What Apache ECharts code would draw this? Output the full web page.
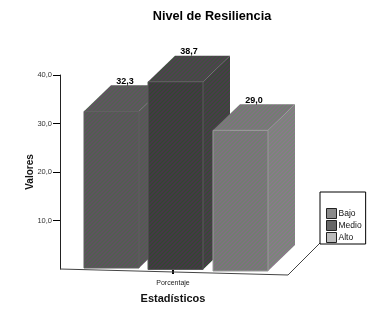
<!DOCTYPE html>
<html><head><meta charset="utf-8">
<style>html,body{margin:0;padding:0;background:#fff}#c{width:378px;height:316px}</style>
<script src="https://cdn.jsdelivr.net/npm/echarts@6/dist/echarts.min.js"></script>
</head><body><div id="c"></div>
<script>
const categories = ['Porcentaje'];
const levels = ['Bajo', 'Medio', 'Alto'];
const bajo = [32.3];
const medio = [38.7];
const alto = [29.0];
const yTicks = [10, 20, 30, 40];

const chart = echarts.init(document.getElementById('c'), null, {renderer: 'canvas'});
const FONT = '"Liberation Sans", Arial, sans-serif';

// ordered-dither look of the scanned chart
const DITHER = [0,1,0,2, 1,0,2,0, 0,2,0,1, 2,0,1,0];
function dither(base, a, b) {
  const c = document.createElement('canvas');
  c.width = c.height = 4;
  const g = c.getContext('2d');
  DITHER.forEach((k, i) => {
    g.fillStyle = [base, a, b][k];
    g.fillRect(i % 4, Math.floor(i / 4), 1, 1);
  });
  return {image: c, repeat: 'repeat'};
}
const barStyles = [
  {front: dither('#585858', '#644c64', '#4c624c'), top: dither('#5a5a5a', '#664e66', '#4e644e'), side: dither('#585858', '#644c64', '#4c624c'), edge: '#5e5e5e', off: 24, sink: -1, solid: '#585858'},
  {front: dither('#3e3e3e', '#4c304c', '#2e4a2e'), top: dither('#484848', '#563a56', '#3a543a'), side: dither('#424242', '#503450', '#324e32'), edge: '#5a5a5a', off: 88, sink: 0.5, solid: '#3e3e3e'},
  {front: dither('#777777', '#866a86', '#6a846a'), top: dither('#787878', '#876b87', '#6b856b'), side: dither('#808080', '#8f748f', '#748c74'), edge: '#9a9a9a', off: 153, sink: 2, solid: '#777777'}
];
const BAR_W = 55, DX = 27, DY = 26;

function series3d(idx, values) {
  const s = barStyles[idx];
  return {
    type: 'custom', name: levels[idx], coordinateSystem: 'cartesian2d',
    itemStyle: {color: s.solid}, z: 2 + idx,
    encode: {x: 0, y: 1},
    data: values.map((v, i) => [i, v]),
    renderItem(params, api) {
      const top = api.coord([api.value(0), api.value(1)]);
      const base = api.coord([api.value(0), 0]);
      const left = base[0] - api.size([1, 0])[0] / 2 + s.off;
      const r = left + BAR_W, t = top[1] + s.sink, b = base[1] + s.sink;
      const poly = (pts, fill, stroke) => ({type: 'polygon', shape: {points: pts},
        style: {fill, stroke: stroke || null, lineWidth: 1}});
      return {type: 'group', children: [
        poly([[r, t], [r + DX, t - DY], [r + DX, b - DY], [r, b]], s.side),
        poly([[left, t], [left + DX, t - DY], [r + DX, t - DY], [r, t]], s.top),
        poly([[left, t], [r, t], [r, b], [left, b]], s.front, s.edge),
        {type: 'text', style: {x: (left + r + DX) / 2, y: t - DY - 4, text: api.value(1).toFixed(1).replace('.', ','),
          fill: '#000', font: 'bold 9px ' + FONT, align: 'center', verticalAlign: 'middle'}}
      ]};
    }
  };
}

chart.setOption({
  animation: false,
  backgroundColor: '#fff',
  title: {text: 'Nivel de Resiliencia', left: 207, top: 5, textAlign: 'center',
    textStyle: {fontFamily: FONT, fontSize: 12.7, fontWeight: 'bold', color: '#000'}},
  grid: {left: 60, top: 75, width: 226, height: 194},
  xAxis: {type: 'category', data: categories, offset: 4,
    axisLine: {show: false},
    axisTick: {show: true, alignWithLabel: true, length: 5, lineStyle: {color: '#000', width: 2}},
    axisLabel: {fontFamily: FONT, fontSize: 7, color: '#222', margin: 7},
    name: 'Estadísticos', nameLocation: 'middle', nameGap: 20,
    nameTextStyle: {fontFamily: FONT, fontSize: 11, fontWeight: 'bold', color: '#111'}},
  yAxis: {type: 'value', min: 0, max: 40, interval: 10,
    axisLine: {show: true, lineStyle: {color: '#222', width: 1}},
    axisTick: {show: true, length: 7, customValues: yTicks, lineStyle: {color: '#000'}},
    splitLine: {show: false},
    axisLabel: {fontFamily: FONT, fontSize: 7.5, color: '#333', margin: 8, showMinLabel: false,
      formatter: v => v.toFixed(1).replace('.', ',')},
    name: 'Valores', nameLocation: 'middle', nameGap: 25, nameMoveOverlap: false,
    nameTextStyle: {fontFamily: FONT, fontSize: 10, fontWeight: 'bold', color: '#111'}},
  legend: {orient: 'vertical', left: 320, top: 192, width: 46, itemWidth: 10, itemHeight: 10, itemGap: 1,
    padding: [16, 4, 1, 6], backgroundColor: '#fff', borderColor: '#000', borderWidth: 1, borderRadius: 0,
    textStyle: {fontFamily: FONT, fontSize: 8.5, color: '#111', padding: [0, 0, 0, -3]},
    data: [
      {name: 'Bajo', icon: 'rect', itemStyle: {color: '#8a8a8a', borderColor: '#222', borderWidth: 1}},
      {name: 'Medio', icon: 'rect', itemStyle: {color: '#666', borderColor: '#222', borderWidth: 1}},
      {name: 'Alto', icon: 'rect', itemStyle: {color: '#bbb', borderColor: '#222', borderWidth: 1}}
    ]},
  graphic: [
    {type: 'polyline', z: 1, shape: {points: [[60, 269], [288, 275], [320, 243]]},
      style: {fill: 'none', stroke: '#444', lineWidth: 1}}
  ],
  series: [series3d(0, bajo), series3d(1, medio), series3d(2, alto)]
});
</script></body></html>
